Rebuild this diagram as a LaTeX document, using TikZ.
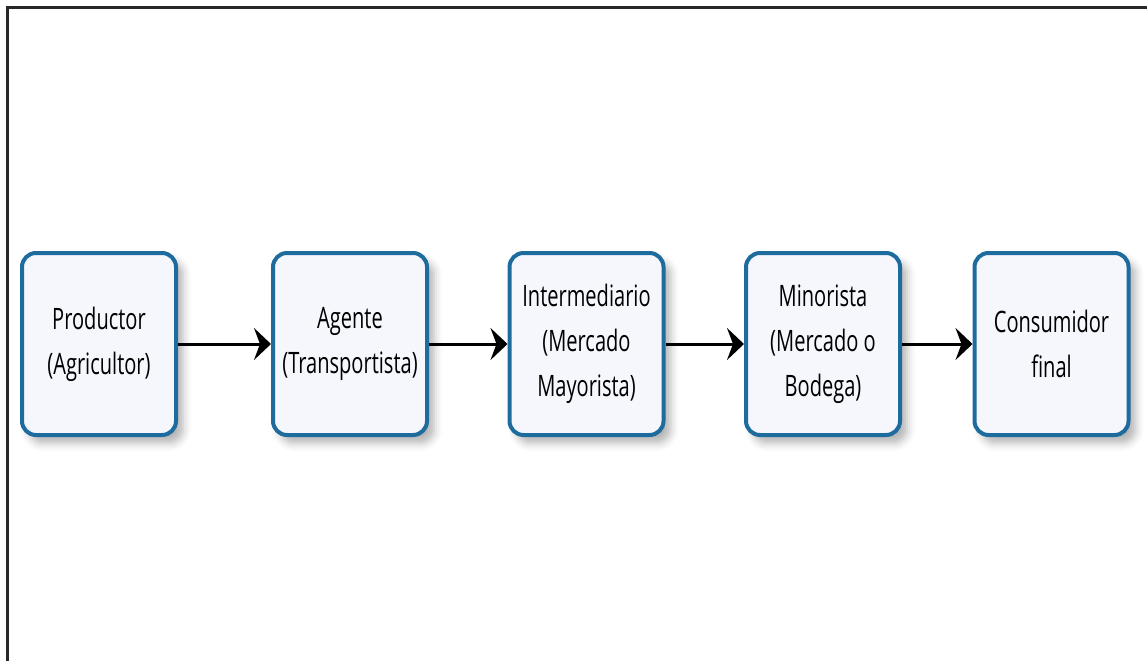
\documentclass[tikz,border=0pt]{standalone}
\usepackage{fontspec}
\setmainfont[FakeStretch=0.68]{Open Sans}
\usepackage{xcolor}
\usepackage{tikz}
\usetikzlibrary{shadows.blur}
\usetikzlibrary{arrows.meta}
\definecolor{boxborder}{RGB}{30,108,158}
\definecolor{boxfill}{RGB}{245,247,253}
\definecolor{framegray}{RGB}{40,40,40}
\tikzset{chainbox/.style={
  draw=boxborder, fill=boxfill, line width=4pt, rounded corners=14pt,
  minimum width=154pt, minimum height=182pt, align=center,
  text=black, font=\fontsize{29.5}{45}\selectfont,
  blur shadow={shadow xshift=7pt, shadow yshift=-8pt,
    shadow blur radius=8pt, shadow opacity=30}},
  chainarrow/.style={line width=3pt, -{Stealth[length=17pt, width=32pt, inset=6pt]}}
}

\begin{document}
\begin{tikzpicture}[x=1pt, y=-1pt]

    \useasboundingbox (0,0) rectangle (1147,661);

    % Frame: top & left
    \draw[framegray, line width=2.5pt] (7.5,661) -- (7.5,7.5) -- (1147,7.5);

    % Boxes: stages of the chain
    \node[chainbox] (prod) at (99,344) {Productor\\(Agricultor)};
    \node[chainbox] (agente) at (350,344) {Agente\\(Transportista)};
    \node[chainbox] (inter) at (586.5,344) {Intermediario\\(Mercado\\Mayorista)};
    \node[chainbox] (mino) at (823,344) {Minorista\\(Mercado o\\Bodega)};
    \node[chainbox] (cons) at (1051.5,344) {Consumidor\\final};

    % Arrows: between stages
    \draw[chainarrow] (prod) -- (agente);
    \draw[chainarrow] (agente) -- (inter);
    \draw[chainarrow] (inter) -- (mino);
    \draw[chainarrow] (mino) -- (cons);

\end{tikzpicture}
\end{document}
